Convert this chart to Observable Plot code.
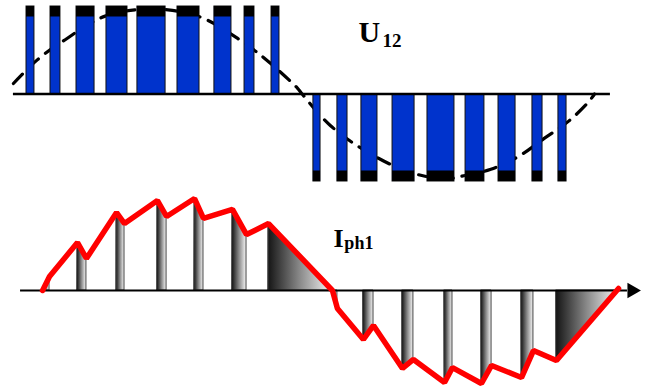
<!DOCTYPE html>
<html>
<head>
<meta charset="utf-8">
<script src="https://cdn.jsdelivr.net/npm/d3@7"></script>
<script src="https://cdn.jsdelivr.net/npm/@observablehq/plot@0.6"></script>
<style>
  html, body { margin: 0; padding: 0; background: white; }
  #chart { width: 648px; height: 387px; overflow: hidden; }
  #chart svg { display: block; }
</style>
</head>
<body>
<div id="chart"></div>
<script>
// ---- Data (angles in electrical degrees) ----
// Line-to-line voltage U12: PWM pulses
const pulseStart = [14.5, 29.0, 44.7, 62.8, 81.5, 105.7, 128.0, 146.2, 162.5,
                    187.8, 202.3, 216.8, 235.6, 256.7, 279.7, 299.6, 320.1, 335.8];
const pulseEnd   = [19.3, 35.0, 55.6, 75.5, 98.5, 119.0, 138.3, 152.2, 167.3,
                    192.1, 208.4, 226.5, 248.9, 273.0, 291.1, 309.9, 326.2, 340.7];
const pulseLevel = [1, 1, 1, 1, 1, 1, 1, 1, 1,
                    -1, -1, -1, -1, -1, -1, -1, -1, -1];

// Fundamental (dashed)
const fundDeg = [6.6, 21, 37, 62, 90, 118, 144, 160, 178, 181, 198, 221, 247, 268, 277, 295, 312, 327, 342, 354, 357.6];
const fundVal = [0.12, 0.39, 0.61, 0.89, 0.97, 0.89, 0.61, 0.38, 0.07, 0, -0.36, -0.67, -0.9, -0.97, -0.94, -0.86, -0.71, -0.51, -0.31, -0.09, 0];

// Phase current Iph1
const curDeg = [24.2, 28.4, 45.3, 50.7, 68.9, 73.7, 93.6, 99.1, 116.0, 121.4, 138.9, 147.4, 160.7, 199.3,
                202.3, 218.0, 224.1, 241.6, 248.2, 267.0, 271.8, 289.3, 295.4, 313.5, 320.7, 334.6, 372.1];
const curVal = [0, 0.147, 0.505, 0.337, 0.821, 0.705, 0.947, 0.779, 0.968, 0.758, 0.853, 0.589, 0.705, 0,
                -0.189, -0.516, -0.368, -0.821, -0.726, -0.968, -0.811, -0.979, -0.789, -0.916, -0.632, -0.737, 0.021];

// Freewheeling intervals (index pairs into the current vertices)
const stripFrom = [0, 2, 4, 6, 8, 10, 12, 13, 15, 17, 19, 21, 23, 25];
const stripTo   = [1, 3, 5, 7, 9, 11, 13, 14, 16, 18, 20, 22, 24, 26];

// Axes extents
const topAxisSpan = [6.6, 367.2];
const botAxisSpan = [10.9, 377.5];
const arrowTip = [380.2];

// Labels
const voltLabel = {main: "U", sub: "12", deg: 215, subDeg: 229.5, v: 0.6, subV: 0.54};
const curLabel  = {main: "I", sub: "ph1", deg: 200, subDeg: 206.5, v: 0.453, subV: 0.44};

// ---- Build tables ----
const pulses = pulseStart.map((s, i) => ({x1: s, x2: pulseEnd[i], level: pulseLevel[i]}));
const fund = fundDeg.map((d, i) => ({deg: d, v: fundVal[i]}));
const current = curDeg.map((d, i) => ({deg: d, v: curVal[i]}));
const strips = [];
stripFrom.forEach((a, k) => {
  for (let i = a; i <= stripTo[k]; i++) strips.push({id: k, deg: curDeg[i], v: curVal[i]});
});

const xOpt = {domain: [0, 360], range: [2, 598], axis: null};
const font = "'Liberation Serif', 'Times New Roman', serif";

const voltPlot = Plot.plot({
  width: 648, height: 190, margin: 0,
  x: xOpt,
  y: {domain: [-1, 1], range: [181, 6], axis: null},
  style: {background: "white", overflow: "visible"},
  marks: [
    Plot.line(fund, {x: "deg", y: "v", stroke: "black", strokeWidth: 3.2,
                     strokeDasharray: "13,9", curve: "catmull-rom"}),
    Plot.rect(pulses, {x1: "x1", x2: "x2", y1: 0, y2: "level", fill: "#0033cc",
                       stroke: "#111", strokeWidth: 1}),
    Plot.rect(pulses, {x1: "x1", x2: "x2", y1: d => d.level * 0.88, y2: "level", fill: "black"}),
    Plot.ruleY([0], {x1: topAxisSpan[0], x2: topAxisSpan[1], stroke: "black", strokeWidth: 2.5}),
    Plot.text([voltLabel], {x: "deg", y: "v", text: "main", textAnchor: "start", lineAnchor: "bottom",
                            fontSize: 30, fontWeight: "bold", fontFamily: font, fill: "black"}),
    Plot.text([voltLabel], {x: "subDeg", y: "subV", text: "sub", textAnchor: "start", lineAnchor: "bottom",
                            fontSize: 19, fontWeight: "bold", fontFamily: font, fill: "black"})
  ]
});

const currPlot = Plot.plot({
  width: 648, height: 197, margin: 0,
  x: xOpt,
  y: {domain: [-1, 1], range: [195, 5], axis: null},
  style: {background: "white", overflow: "visible"},
  marks: [
    Plot.areaY(strips, {x: "deg", y: "v", z: "id", fill: "url(#stripGrad)",
                        stroke: "#444", strokeWidth: 1}),
    Plot.ruleY([0], {x1: botAxisSpan[0], x2: botAxisSpan[1], stroke: "black", strokeWidth: 2}),
    Plot.dot(arrowTip, {x: d => d, y: 0, symbol: "triangle", r: 5.8, rotate: 90, fill: "black", stroke: "none"}),
    Plot.line(current, {x: "deg", y: "v", stroke: "#ff0000", strokeWidth: 5.5, strokeLinejoin: "miter"}),
    Plot.text([curLabel], {x: "deg", y: "v", text: "main", textAnchor: "start", lineAnchor: "bottom",
                           fontSize: 26, fontWeight: "bold", fontFamily: font, fill: "black"}),
    Plot.text([curLabel], {x: "subDeg", y: "subV", text: "sub", textAnchor: "start", lineAnchor: "bottom",
                           fontSize: 18, fontWeight: "bold", fontFamily: font, fill: "black"})
  ]
});

// gradient definition for the freewheel strips
const defs = d3.select(currPlot).insert("defs", ":first-child");
const grad = defs.append("linearGradient").attr("id", "stripGrad")
  .attr("x1", 0).attr("y1", 0).attr("x2", 1).attr("y2", 0);
grad.append("stop").attr("offset", "0%").attr("stop-color", "#151515");
grad.append("stop").attr("offset", "50%").attr("stop-color", "#8a8a8a");
grad.append("stop").attr("offset", "100%").attr("stop-color", "#f6f6f6");

const root = document.getElementById("chart");
root.appendChild(voltPlot);
root.appendChild(currPlot);
</script>
</body>
</html>
